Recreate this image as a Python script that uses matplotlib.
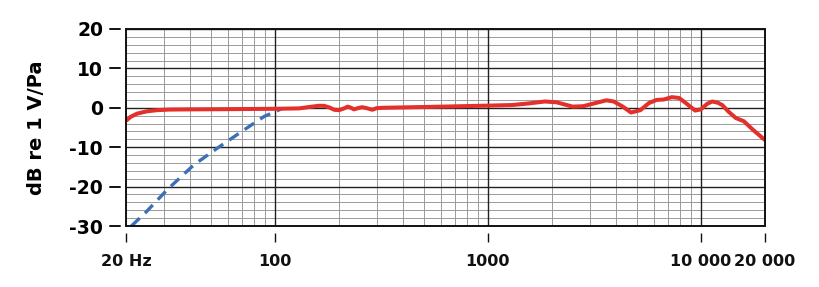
import numpy as np
import matplotlib
matplotlib.use("Agg")
import matplotlib.pyplot as plt
import matplotlib.transforms as mtransforms
from matplotlib.lines import Line2D
from matplotlib.patches import Rectangle
from matplotlib.ticker import FixedLocator, NullLocator

# Frequency response
resp_freq = [20, 21, 22.5, 25, 28, 32, 40, 60, 100, 130, 145, 160, 170, 180, 190,
             200, 210, 220, 228, 235, 245, 257, 270, 287, 300, 320, 500, 1000,
             1300, 1550, 1850, 2100, 2500, 2800, 3200, 3600, 3900, 4300, 4700,
             5200, 5700, 6200, 6700, 7300, 7900, 8500, 9400, 10000, 10700, 11300,
             12000, 12600, 13500, 14600, 15900, 17500, 20000]
resp_db = [-3.3, -2.3, -1.5, -0.9, -0.6, -0.45, -0.4, -0.35, -0.25, -0.15, 0.2, 0.5,
           0.5, 0.1, -0.5, -0.6, -0.2, 0.3, 0.0, -0.4, -0.1, 0.15, -0.1, -0.5,
           -0.1, 0.0, 0.2, 0.55, 0.7, 1.1, 1.6, 1.4, 0.3, 0.4, 1.2, 1.9, 1.6, 0.3,
           -1.2, -0.6, 1.2, 2.0, 2.1, 2.7, 2.5, 1.2, -0.7, -0.4, 1.0, 1.6, 1.3,
           0.7, -1.0, -2.6, -3.4, -5.5, -8.2]

# Low cut (dashed)
cut_freq = [21.2, 25, 31.2, 41.6, 53.8, 71.7, 89, 107]
cut_db = [-30, -26.3, -20.8, -14.5, -10.2, -5.6, -2.2, -0.3]

yticks = [-30, -20, -10, 0, 10, 20]
ylabels = ["-30", "-20", "-10", "0", "10", "20"]
xticks = [20, 100, 1000, 10000, 20000]
xlabels = ["20 Hz", "100", "1000", "10 000", "20 000"]

px = 0.72  # points per pixel at dpi 100

fig = plt.figure(figsize=(8.2, 2.87), dpi=100)
ax = fig.add_axes([0.1537, 0.2125, 0.7792, 0.6865])
ax.set_xscale("log")
ax.set_xlim(20, 20000)
ax.set_ylim(-30, 20)

# grid
minor_x = [m * 10 ** d for d in range(1, 5) for m in range(2, 10) if 20 <= m * 10 ** d <= 20000]
for f in minor_x:
    ax.axvline(f, color="#9a9a9a", lw=0.7, zorder=1)
for f in [100, 1000, 10000]:
    ax.axvline(f, color="#222222", lw=1.0, zorder=1.5)
for v in range(-30, 21, 2):
    if v % 10:
        ax.axhline(v, color="#9a9a9a", lw=0.7, zorder=1)
    else:
        ax.axhline(v, color="#222222", lw=1.0, zorder=1.5)

ax.plot(cut_freq, cut_db, color="#3b6fb6", lw=2.4, ls=(0, (3.4, 2.2)), zorder=3)
ax.plot(resp_freq, resp_db, color="#e4302b", lw=2.9, zorder=4, solid_capstyle="butt")

# frame as a patch; spines pushed outward so ticks stand off the frame
for s in ax.spines.values():
    s.set_visible(False)
ax.spines["left"].set_position(("outward", 6 * px))
ax.spines["bottom"].set_position(("outward", 7 * px))
ax.add_patch(Rectangle((0, 0), 1, 1, transform=ax.transAxes, fill=False,
                       lw=1.4, edgecolor="#111111", clip_on=False, zorder=5))

ax.set_yticks(yticks)
ax.set_yticklabels(ylabels)
ax.xaxis.set_major_locator(FixedLocator(xticks))
ax.xaxis.set_minor_locator(NullLocator())
ax.set_xticklabels(xlabels)
for lab in ax.get_yticklabels():
    lab.set_fontweight("bold")
    lab.set_fontsize(13.5)
for lab in ax.get_xticklabels():
    lab.set_fontweight("bold")
    lab.set_fontsize(11.5)
    lab.set_color("#111111")

ax.set_ylabel("dB re 1 V/Pa", fontweight="bold", fontsize=14, labelpad=17)

ax.tick_params(axis="y", direction="out", length=10 * px, width=1.2, color="#111111", pad=7 * px)
ax.tick_params(axis="x", direction="out", length=9 * px, width=1.0, color="#111111", pad=12 * px)

# y tick dashes also drawn at figure level, standing off the frame
ax_w = fig.get_figwidth() * fig.dpi * ax.get_position().width
ytr = mtransforms.blended_transform_factory(ax.transAxes, ax.transData)
for v in yticks:
    fig.add_artist(Line2D([-16 / ax_w, -6 / ax_w], [v, v], transform=ytr,
                          color="#111111", lw=1.2, zorder=10))

fig.savefig("out.png", dpi=100)
